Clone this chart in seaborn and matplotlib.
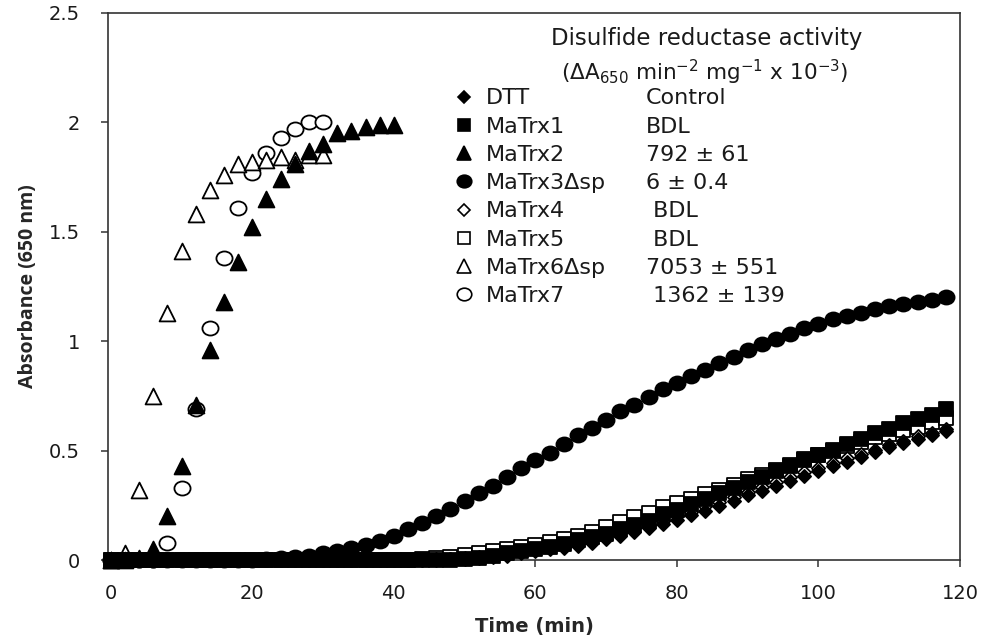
import matplotlib
matplotlib.use("Agg")
import matplotlib.pyplot as plt
from matplotlib.lines import Line2D
from matplotlib.path import Path
import seaborn as sns

# sampling times (min)
time_long = list(range(0, 120, 2))
time_mid = list(range(0, 42, 2))
time_short = list(range(0, 32, 2))

dtt = [0] * 24 + [0.003, 0.006, 0.01, 0.015, 0.02, 0.03, 0.04, 0.05, 0.055, 0.065,
                  0.08, 0.095, 0.11, 0.13, 0.145, 0.165, 0.185, 0.205, 0.225, 0.245,
                  0.27, 0.295, 0.315, 0.34, 0.36, 0.385, 0.405, 0.43, 0.45, 0.47,
                  0.495, 0.515, 0.535, 0.555, 0.57, 0.59]
matrx1 = [0] * 25 + [0.005, 0.01, 0.02, 0.03, 0.04, 0.05, 0.06, 0.075, 0.09,
                     0.105, 0.12, 0.14, 0.16, 0.18, 0.21, 0.23, 0.255, 0.28, 0.305,
                     0.33, 0.355, 0.38, 0.405, 0.43, 0.455, 0.48, 0.505, 0.53, 0.555,
                     0.58, 0.60, 0.625, 0.645, 0.665, 0.69]
matrx2 = [0, 0, 0.01, 0.05, 0.2, 0.43, 0.71, 0.96, 1.18, 1.36, 1.52, 1.65, 1.74,
          1.81, 1.87, 1.90, 1.95, 1.96, 1.98, 1.99, 1.99]
matrx3 = [0] * 11 + [0.005, 0.01, 0.014, 0.02, 0.03, 0.04, 0.055, 0.07, 0.087, 0.11,
                     0.14, 0.17, 0.20, 0.235, 0.27, 0.305, 0.34, 0.38, 0.42, 0.455,
                     0.49, 0.53, 0.57, 0.605, 0.64, 0.68, 0.71, 0.745, 0.78, 0.81,
                     0.84, 0.87, 0.90, 0.93, 0.96, 0.985, 1.01, 1.035, 1.06, 1.08,
                     1.10, 1.115, 1.13, 1.145, 1.16, 1.17, 1.18, 1.19, 1.20]
matrx4 = [0] * 23 + [0.003, 0.006, 0.01, 0.015, 0.02, 0.03, 0.04, 0.05, 0.06, 0.07,
                     0.08, 0.095, 0.11, 0.125, 0.145, 0.16, 0.18, 0.20, 0.22, 0.245,
                     0.265, 0.29, 0.31, 0.335, 0.355, 0.38, 0.40, 0.42, 0.445, 0.465,
                     0.485, 0.505, 0.525, 0.545, 0.565, 0.58, 0.60]
matrx5 = [0] * 22 + [0.005, 0.01, 0.015, 0.022, 0.03, 0.04, 0.05, 0.06, 0.07, 0.082,
                     0.095, 0.11, 0.13, 0.15, 0.175, 0.195, 0.215, 0.24, 0.26, 0.28,
                     0.30, 0.32, 0.345, 0.37, 0.39, 0.41, 0.435, 0.46, 0.48, 0.50,
                     0.52, 0.54, 0.56, 0.575, 0.595, 0.61, 0.63, 0.65]
matrx6 = [0, 0.03, 0.32, 0.75, 1.13, 1.41, 1.58, 1.69, 1.76, 1.81, 1.82, 1.83, 1.84,
          1.83, 1.85, 1.85]
matrx7 = [0, 0, 0, 0, 0.08, 0.33, 0.69, 1.06, 1.38, 1.61, 1.77, 1.86, 1.93, 1.97,
          2.0, 2.0]

names = ["DTT", "MaTrx1", "MaTrx2", "MaTrx3\u0394sp", "MaTrx4", "MaTrx5",
         "MaTrx6\u0394sp", "MaTrx7"]
activity = ["Control", "BDL", "792 \u00b1 61", "6 \u00b1 0.4", " BDL", " BDL",
            "7053 \u00b1 551", " 1362 \u00b1 139"]

# slightly flattened circle, the original markers are a bit wider than tall
_c = Path.unit_circle()
ellipse = Path(_c.vertices * [1.0, 0.87], _c.codes)

series = [
    (time_long, dtt, "D", "black", 45),
    (time_long, matrx1, "s", "black", 90),
    (time_mid, matrx2, "^", "black", 130),
    (time_long, matrx3, ellipse, "black", 135),
    (time_long, matrx4, "D", "white", 45),
    (time_long, matrx5, "s", "white", 90),
    (time_short, matrx6, "^", "white", 130),
    (time_short, matrx7, ellipse, "white", 135),
]

sns.set_theme(style="ticks")
plt.rcParams["font.family"] = ["DejaVu Sans"]
plt.rcParams["mathtext.fontset"] = "dejavusans"
plt.rcParams["mathtext.default"] = "regular"

fig, ax = plt.subplots(figsize=(9.86, 6.42), dpi=100)
fig.subplots_adjust(left=0.1095, right=0.9736, bottom=0.1277, top=0.9798)

handles = {}
# later series first so filled markers end up on top
for i in reversed(range(len(series))):
    x, y, m, fc, s = series[i]
    sns.scatterplot(x=x, y=y, marker=m, s=s, facecolor=fc, edgecolor="black",
                    linewidth=1.3, ax=ax, clip_on=False, zorder=3 + (8 - i) * 0.01)
    handles[i] = Line2D([], [], linestyle="none", marker=m,
                        markersize=s ** 0.5 * 0.9, markerfacecolor=fc,
                        markeredgecolor="black", markeredgewidth=1.2)

ax.set_xlim(-0.4, 120)
ax.set_ylim(0, 2.5)
ax.set_xticks([0, 20, 40, 60, 80, 100, 120])
ax.set_yticks([0, 0.5, 1, 1.5, 2, 2.5])
ax.set_yticklabels(["0", "0.5", "1", "1.5", "2", "2.5"])
ax.tick_params(axis="both", direction="out", length=5, width=1.1, color="#333333",
               labelsize=14, labelcolor="#1a1a1a")
ax.tick_params(axis="y", pad=15)
ax.tick_params(axis="x", pad=12)
for sp in ax.spines.values():
    sp.set_visible(True)
    sp.set_color("#333333")
    sp.set_linewidth(1.2)

ax.set_xlabel("Time (min)", fontsize=14, fontweight="bold", labelpad=10)
ax.set_ylabel("Absorbance (650 nm)", fontsize=14, fontweight="bold", labelpad=8,
              family=["Open Sans", "DejaVu Sans"])

ax.text(0.703, 0.954, "Disulfide reductase activity", transform=ax.transAxes,
        ha="center", va="center", fontsize=16.5, color="#1a1a1a")
ax.text(0.700, 0.891,
        "($\\Delta$A$_{650}$ min$^{-2}$ mg$^{-1}$ x 10$^{-3}$)",
        transform=ax.transAxes, ha="center", va="center", fontsize=15.5,
        color="#1a1a1a")

blank = [Line2D([], [], linestyle="none") for _ in names]
leg = ax.legend([handles[i] for i in range(8)] + blank, names + activity,
                ncol=2, loc="upper left", bbox_to_anchor=(0.408, 0.862),
                frameon=False, fontsize=16, handlelength=0.8,
                handletextpad=0.55, columnspacing=0.45, labelspacing=0.37,
                borderpad=0, borderaxespad=0)
for t in leg.get_texts():
    t.set_color("#1a1a1a")

fig.savefig("out.png", dpi=100)
